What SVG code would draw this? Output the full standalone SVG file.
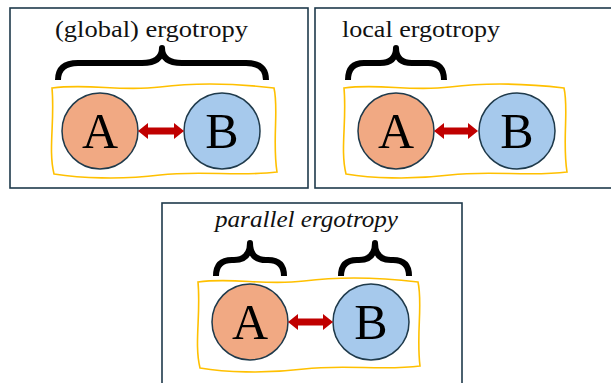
<svg xmlns="http://www.w3.org/2000/svg" width="611" height="383" viewBox="0 0 611 383">
<style>
.panel{fill:#fff;stroke:#1f3a4b;stroke-width:1.6}
.title{font-family:"Liberation Serif","DejaVu Serif",serif;font-size:24px;fill:#111}
.brace{fill:none;stroke:#000;stroke-width:6;stroke-linejoin:round}
.wavy{fill:none;stroke:#ffc000;stroke-width:1.6}
.nodeA{fill:#f1a983;stroke:#1f3a4b;stroke-width:1.5}
.nodeB{fill:#a6c9ec;stroke:#1f3a4b;stroke-width:1.5}
.lbl{font-family:"Liberation Serif","DejaVu Serif",serif;font-size:50px;fill:#000;text-anchor:middle}
.arr{fill:#c00000}
</style>
<rect width="611" height="383" fill="#fff"/>
<!-- Panel 1 -->
<g id="panel1">
<rect class="panel" x="10" y="8" width="298" height="180"/>
<text class="title" x="55" y="37" textLength="193" lengthAdjust="spacingAndGlyphs">(global) ergotropy</text>
<path class="brace" d="M 58,80 Q 58,63 78,63 L 142,63 Q 162,63 162,48 Q 162,63 182,63 L 246,63 Q 266,63 266,80"/>
<path class="wavy" d="M 52,88 C 90,83 120,92 160,87 S 240,84 274,88 C 279,110 272,140 277,172 C 240,177 200,170 160,175 S 80,178 54,174 C 48,150 55,120 52,88 Z"/>
</g>
<g id="A1"><circle class="nodeA" cx="100" cy="131" r="38"/><text class="lbl" x="100" y="148">A</text></g>
<g id="B1"><circle class="nodeB" cx="222" cy="131" r="38"/><text class="lbl" x="222" y="148">B</text></g>
<!-- Panel 2 -->
<g id="panel2">
<rect class="panel" x="315" y="8" width="300" height="180"/>
<text class="title" x="342" y="37" textLength="158" lengthAdjust="spacingAndGlyphs">local ergotropy</text>
<path class="brace" d="M 348,80 Q 348,63 364,63 L 380,63 Q 396,63 396,48 Q 396,63 412,63 L 428,63 Q 444,63 444,80"/>
<path class="wavy" d="M 344,88 C 380,83 410,92 450,87 S 530,84 564,88 C 569,110 562,140 567,172 C 530,177 490,170 450,175 S 370,178 346,174 C 340,150 347,120 344,88 Z"/>
</g>
<g id="A2"><circle class="nodeA" cx="396" cy="131" r="38"/><text class="lbl" x="396" y="148">A</text></g>
<g id="B2"><circle class="nodeB" cx="517" cy="131" r="38"/><text class="lbl" x="517" y="148">B</text></g>
<!-- Panel 3 -->
<g id="panel3">
<rect class="panel" x="162" y="203" width="300" height="190"/>
<text class="title" x="215" y="227" font-style="italic" textLength="183" lengthAdjust="spacingAndGlyphs">parallel ergotropy</text>
<path class="brace" d="M 216,276 Q 216,260 232,260 L 234,260 Q 250,260 250,243 Q 250,260 266,260 L 268,260 Q 284,260 284,276"/>
<path class="brace" d="M 341,276 Q 341,260 357,260 L 359,260 Q 375,260 375,243 Q 375,260 391,260 L 393,260 Q 409,260 409,276"/>
<path class="wavy" d="M 198,282 C 234,277 264,286 304,281 S 384,278 418,282 C 423,304 416,334 420,366 C 384,371 344,364 304,369 S 224,372 200,368 C 194,344 201,314 198,282 Z"/>
</g>
<g id="A3"><circle class="nodeA" cx="250" cy="322" r="38"/><text class="lbl" x="250" y="339">A</text></g>
<g id="B3"><circle class="nodeB" cx="371" cy="322" r="38"/><text class="lbl" x="371" y="339">B</text></g>
<!-- Connectors -->
<g id="connectors">
<polygon class="arr" points="138,131 148,123 148,127.5 174,127.5 174,123 184,131 174,139 174,134.5 148,134.5 148,139"/>
<polygon class="arr" points="434,131 444,123 444,127.5 468,127.5 468,123 478,131 468,139 468,134.5 444,134.5 444,139"/>
<polygon class="arr" points="288,322 298,314 298,318.5 323,318.5 323,314 333,322 323,330 323,325.5 298,325.5 298,330"/>
</g>
</svg>
